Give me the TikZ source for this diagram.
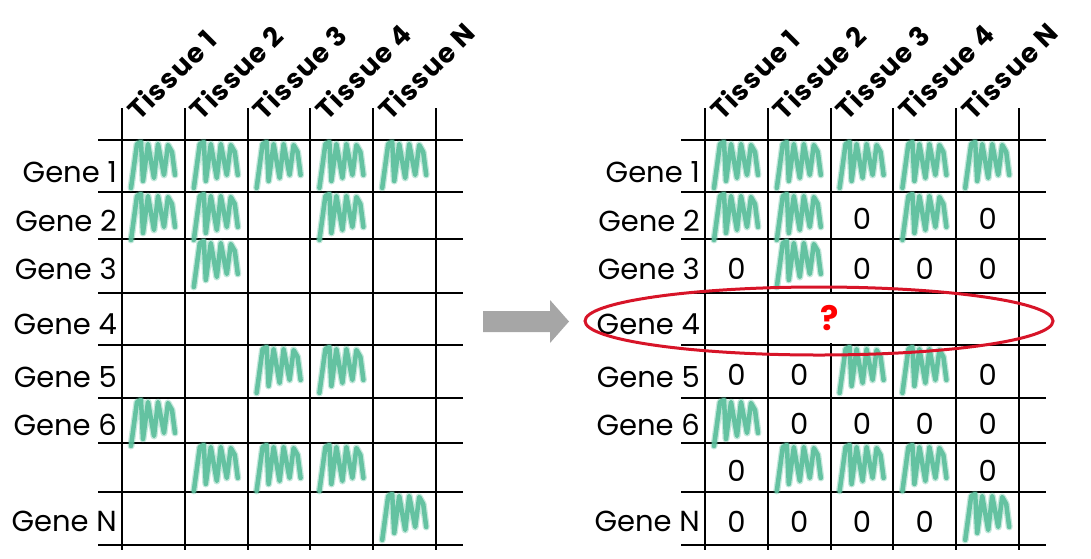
\documentclass[tikz,border=0pt]{standalone}
\usepackage{fontspec}
\setmainfont{Poppins}
\definecolor{scribgreen}{RGB}{90,190,155}
\definecolor{ovalred}{RGB}{215,20,40}
\definecolor{arrowgray}{RGB}{166,166,166}
\tikzset{
	gridline/.style={line width=2pt},
	genelabel/.style={anchor=base east, inner sep=0pt, font=\fontsize{29}{30}\selectfont},
	tissuelabel/.style={anchor=base west, rotate=45, inner sep=0pt, font=\bfseries\fontsize{27}{28}\selectfont\addfontfeatures{LetterSpace=5}},
	zero/.style={inner sep=0pt, font=\fontsize{29}{30}\selectfont},
	qmark/.style={fill=white, inner sep=0pt, minimum width=28pt, minimum height=49pt, text=red, font=\bfseries\fontsize{34}{34}\selectfont},
	scribble/.pic={
		\draw[scribgreen, opacity=0.35, line width=7pt, line cap=round, line join=round]
			(9,50) -- (15,6) -- (19,4) -- (21,43) -- (26,6) -- (32,40) -- (36,6) -- (42,37) -- (46,7) -- (50,14) -- (53,37);
		\draw[scribgreen, opacity=0.9, line width=4.5pt, line cap=round, line join=round]
			(9,50) -- (15,6) -- (19,4) -- (21,43) -- (26,6) -- (32,40) -- (36,6) -- (42,37) -- (46,7) -- (50,14) -- (53,37);
	}
}
\begin{document}
\begin{tikzpicture}[x=1pt,y=-1pt]
	\useasboundingbox (0,0) rectangle (1091,558);
	
	\foreach \side/\dx in {L/0, R/583} {
		\begin{scope}[xshift=\dx pt]
			% grid
			\foreach \c in {0,...,5}
				\draw[gridline] ({122+62.8*\c},108) -- ({122+62.8*\c},550);
			\foreach \y in {140,192,239,293,345,398,443,492,545}
				\draw[gridline] (98,\y) -- (463,\y);
			% column heads
			\foreach \c/\t in {1/1, 2/2, 3/3, 4/4, 5/N}
				\node[tissuelabel] (tis\side\c) at ({122+62.8*(\c-1)+17},122) {Tissue \t};
			% row heads
			\foreach \r/\y/\g in {1/182/1, 2/231/2, 3/279/3, 4/334/4, 5/387/5, 6/435/6, 8/531/N}
				\node[genelabel] (gene\side\r) at (117,\y) {Gene \g};
		\end{scope}
	}
	
	% measured values, left table
	\foreach \y/\cells in {140/{1,2,3,4,5}, 192/{1,2,4}, 239/{2}, 345/{3,4}, 398/{1}, 443/{2,3,4}, 492/{5}} {
		\foreach \c in \cells
			\pic at ({122+62.8*(\c-1)},{\y-2}) {scribble};
	}
	
	% measured values and zeros, right table
	\foreach \y/\cells in {140/{1,2,3,4,5}, 192/{1,2,4}, 239/{2}, 345/{3,4}, 398/{1}, 443/{2,3,4}, 492/{5}} {
		\foreach \c in \cells
			\pic at ({705+62.8*(\c-1)},{\y-2}) {scribble};
	}
	\foreach \y/\cells in {215.5/{3,5}, 266/{1,3,4,5}, 371.5/{1,2,5}, 420.5/{2,3,4,5}, 467.5/{1,5}, 518.5/{1,2,3,4}} {
		\foreach \c in \cells
			\node[zero] (zero-\y-\c) at ({736.4+62.8*(\c-1)},{\y+3}) {0};
	}
	
	% unknown row
	\node[qmark] (unknown) at (830,318) {?};
	\draw[ovalred, line width=3pt] (819,321) ellipse [x radius=234, y radius=34];
	
	% arrow between tables
	\fill[arrowgray] (483,311) -- (550,311) -- (550,300) -- (569,321.5) -- (550,343) -- (550,332) -- (483,332) -- cycle;
\end{tikzpicture}
\end{document}
